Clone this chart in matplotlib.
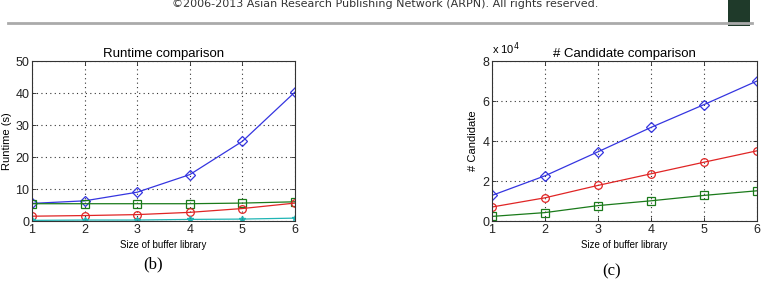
import matplotlib
matplotlib.use("Agg")
import matplotlib.pyplot as plt
from matplotlib.patches import Rectangle
from matplotlib.lines import Line2D

# ---- data ----
sizes = [1, 2, 3, 4, 5, 6]
runtime_blue = [5.5, 6.3, 9.0, 14.5, 24.9, 40.3]
runtime_green = [5.4, 5.4, 5.4, 5.4, 5.6, 6.0]
runtime_red = [1.5, 1.7, 2.0, 2.7, 3.9, 5.6]
runtime_cyan = [0.2, 0.3, 0.3, 0.5, 0.6, 0.9]

cand_blue = [1.28, 2.26, 3.46, 4.68, 5.82, 7.0]
cand_red = [0.70, 1.16, 1.78, 2.36, 2.94, 3.51]
cand_green = [0.23, 0.42, 0.77, 1.01, 1.28, 1.51]

xticks = [1, 2, 3, 4, 5, 6]
rt_yticks = [0, 10, 20, 30, 40, 50]
cd_yticks = [0, 2, 4, 6, 8]

plt.rcParams['font.family'] = ['Liberation Sans', 'DejaVu Sans']

fig = plt.figure(figsize=(7.68, 2.84), dpi=100)
fig.patch.set_facecolor('white')

BLUE = '#3535e0'
GREEN = '#1a7a1a'
RED = '#e02525'
CYAN = '#20b5b5'


def style_axes(ax):
    ax.set_xlim(1, 6)
    ax.set_xticks(xticks)
    ax.tick_params(direction='in', length=3, width=0.6, labelsize=9, pad=2,
                   top=True, right=True, colors='#222222')
    ax.grid(True, linestyle=(0, (1, 3)), color='#333333', linewidth=0.8)
    for s in ax.spines.values():
        s.set_linewidth(0.8)
        s.set_color('#333333')
    ax.set_xlabel('Size of buffer library', fontsize=7, labelpad=3)


ax1 = fig.add_axes([32/768, 1-221/284, (295-32)/768, (221-61)/284])
ms = 5.5
ax1.plot(sizes, runtime_blue, color=BLUE, marker='D', mfc='none', ms=ms, lw=0.9, mew=0.9)
ax1.plot(sizes, runtime_green, color=GREEN, marker='s', mfc='none', ms=ms, lw=0.9, mew=0.9)
ax1.plot(sizes, runtime_red, color=RED, marker='o', mfc='none', ms=ms, lw=0.9, mew=0.9)
ax1.plot(sizes, runtime_cyan, color=CYAN, marker='*', mfc='none', ms=4, lw=0.9)
ax1.set_ylim(0, 50)
ax1.set_yticks(rt_yticks)
style_axes(ax1)
ax1.set_ylabel('Runtime (s)', fontsize=8, labelpad=2)
ax1.set_title('Runtime comparison', fontsize=9.5, pad=3)

ax2 = fig.add_axes([492/768, 1-221/284, (757-492)/768, (221-61)/284])
ax2.plot(sizes, cand_blue, color=BLUE, marker='D', mfc='none', ms=ms, lw=0.9, mew=0.9)
ax2.plot(sizes, cand_red, color=RED, marker='o', mfc='none', ms=ms, lw=0.9, mew=0.9)
ax2.plot(sizes, cand_green, color=GREEN, marker='s', mfc='none', ms=ms, lw=0.9, mew=0.9)
ax2.set_ylim(0, 8)
ax2.set_yticks(cd_yticks)
style_axes(ax2)
ax2.set_ylabel('# Candidate', fontsize=8, labelpad=3)
ax2.set_title('# Candidate comparison', fontsize=9.5, pad=3)
ax2.text(0.0, 1.025, r'x 10$^4$', transform=ax2.transAxes, fontsize=8, ha='left', va='bottom')

# header
fig.text(385/768, 1-4/284, '\u00a92006-2013 Asian Research Publishing Network (ARPN). All rights reserved.',
         fontsize=8, ha='center', va='center', color='#333333', family=['DejaVu Sans'])
fig.add_artist(Line2D([8/768, 752/768], [1-23/284, 1-23/284], color='#aaaaaa', lw=2,
                      transform=fig.transFigure))
fig.add_artist(Rectangle((728/768, 1-26/284), 22/768, 26/284, transform=fig.transFigure,
                         facecolor='#1f3a2a', edgecolor='none'))

# sub-labels
fig.text(153/768, 1-264/284, '(b)', fontsize=12, ha='center', va='center', family=['Liberation Serif'])
fig.text(612/768, 1-271/284, '(c)', fontsize=12, ha='center', va='center', family=['Liberation Serif'])

fig.savefig('out.png', dpi=100)
